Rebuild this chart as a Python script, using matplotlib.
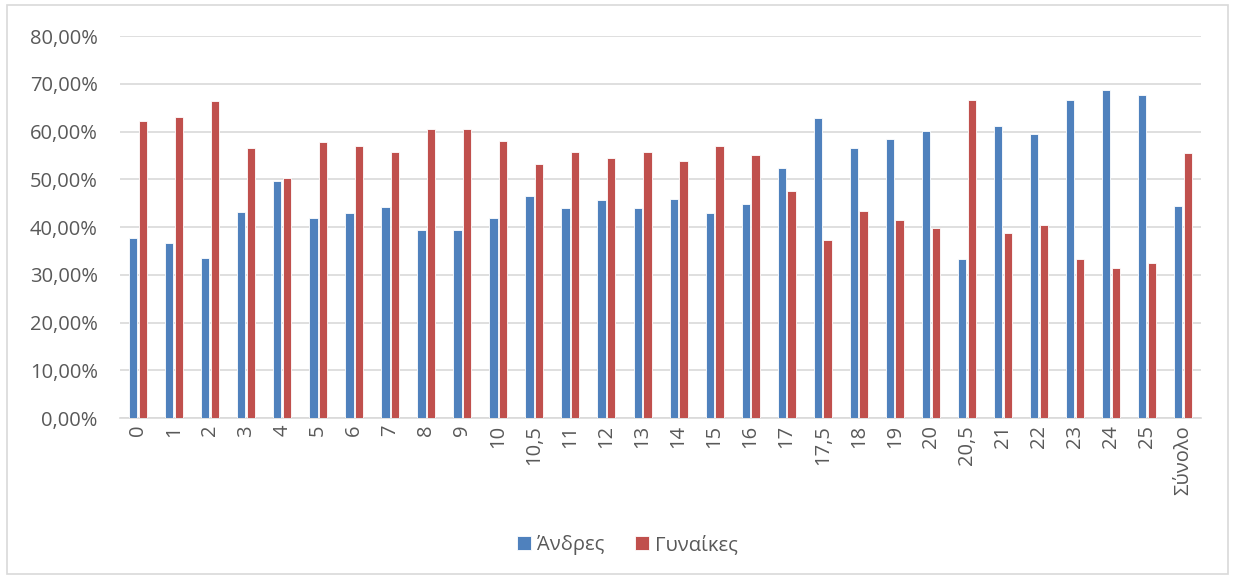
import matplotlib

matplotlib.use("Agg")
import matplotlib.pyplot as plt
import numpy as np
from matplotlib.patches import Rectangle
from matplotlib.ticker import FuncFormatter

plt.rcParams["font.family"] = ["Open Sans", "DejaVu Sans"]

categories = ["0", "1", "2", "3", "4", "5", "6", "7", "8", "9", "10", "10,5",
              "11", "12", "13", "14", "15", "16", "17", "17,5", "18", "19", "20",
              "20,5", "21", "22", "23", "24", "25", "Σύνολο"]
men = [37.8, 36.7, 33.6, 43.1, 49.6, 41.9, 42.9, 44.2, 39.4, 39.4, 41.8, 46.6,
       43.9, 45.6, 43.9, 45.9, 42.9, 44.9, 52.4, 62.8, 56.6, 58.5, 60.1,
       33.2, 61.2, 59.4, 66.7, 68.6, 67.7, 44.5]
women = [62.1, 63.1, 66.3, 56.6, 50.3, 57.8, 57.0, 55.7, 60.5, 60.5, 58.1, 53.3,
         55.8, 54.4, 55.8, 53.9, 57.0, 55.0, 47.5, 37.2, 43.4, 41.5, 39.9,
         66.7, 38.8, 40.5, 33.3, 31.4, 32.4, 55.5]
series_names = ["Άνδρες", "Γυναίκες"]

text_color = "#595959"
grid_color = "#D9D9D9"

fig = plt.figure(figsize=(12.35, 5.79), dpi=100)
ax = fig.add_axes([0.0972, 0.278, 0.8753, 0.6598])

x = np.arange(len(categories))
w = 0.23
ax.bar(x - 0.135, men, w, color="#4F81BD", edgecolor="white", linewidth=0.6,
       label=series_names[0], zorder=3)
ax.bar(x + 0.135, women, w, color="#C0504D", edgecolor="white", linewidth=0.6,
       label=series_names[1], zorder=3)

ax.set_xlim(-0.5, len(categories) - 0.5)
ax.set_ylim(0, 80)
ax.set_yticks(np.arange(0, 81, 10))
ax.yaxis.set_major_formatter(FuncFormatter(lambda v, _: f"{v:.2f}%".replace(".", ",")))
ax.grid(axis="y", color=grid_color, linewidth=1.2, zorder=0)
ax.set_xticks(x)
ax.set_xticklabels(categories, rotation=90)
ax.tick_params(axis="both", length=0, labelsize=14.5, labelcolor=text_color)
ax.tick_params(axis="y", pad=16)
ax.tick_params(axis="x", pad=5)
for side in ["top", "right", "left"]:
    ax.spines[side].set_visible(False)
ax.spines["bottom"].set_color(grid_color)
ax.spines["bottom"].set_linewidth(1.2)

leg = fig.legend(loc="center", bbox_to_anchor=(0.508, 0.058), ncol=2, frameon=False,
                 fontsize=14.5, handlelength=0.7, handleheight=0.7,
                 handletextpad=0.3, columnspacing=1.5)
for t in leg.get_texts():
    t.set_color(text_color)

fig.patches.append(Rectangle((0.006, 0.008), 0.988, 0.984, transform=fig.transFigure,
                             fill=False, edgecolor=grid_color, linewidth=1.2))

fig.savefig("out.png", dpi=100)
